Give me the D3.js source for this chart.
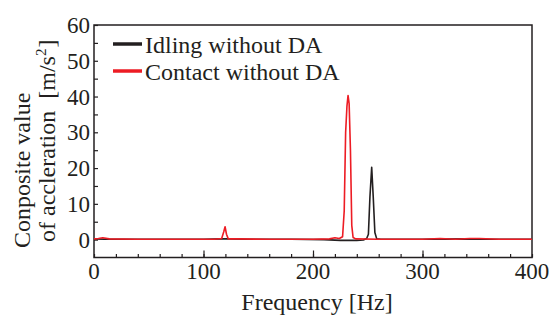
<!DOCTYPE html>
<html>
<head>
	<meta charset="utf-8">
	<script src="https://d3js.org/d3.v7.min.js"></script>
	<style>
		body { margin: 0; background: white; }
		text { font-family: "Liberation Serif", "DejaVu Serif", serif; fill: #231f20; }
	</style>
</head>
<body>
	<svg id="chart" width="552" height="320"></svg>
	<script type="text/javascript">

		// values
		var idleFreq = [0, 10, 30, 60, 100, 118, 122, 140, 180, 210, 225, 232, 240, 246, 249, 250.6, 252, 253.6, 255, 256.5, 258.2, 262, 300, 340, 360, 400];
		var idleVal  = [0.2, 0.1, 0.1, 0.1, 0.1, 0.2, 0.2, 0.1, 0.1, 0.0, -0.2, -0.2, -0.2, -0.1, 0.3, 1.5, 12, 20.2, 12, 2.0, 0.2, 0.1, 0.1, 0.2, 0.1, 0.1];

		var contactFreq = [0, 4, 8, 14, 40, 80, 110, 116.6, 118.5, 119.7, 121, 122.6, 130, 160, 200, 215, 220, 224, 227, 228.5, 229.8, 231, 232, 233, 234.2, 235.4, 236.6, 239, 260, 300, 316, 330, 343, 352, 370, 400];
		var contactVal  = [0.2, 0.3, 0.5, 0.2, 0.1, 0.1, 0.1, 0.3, 2.2, 3.6, 1.5, 0.2, 0.2, 0.1, 0.1, 0.2, 0.5, 0.3, 0.8, 8, 30, 37.3, 40.3, 38, 25, 4, 0.6, 0.2, 0.1, 0.1, 0.3, 0.1, 0.3, 0.3, 0.1, 0.1];

		var xTicks = [0, 100, 200, 300, 400];
		var yTicks = [0, 10, 20, 30, 40, 50, 60];
		var seriesNames = ["Idling without DA", "Contact without DA"];
		var seriesColors = ["#231f20", "#ed1c24"];

		var svg = d3.select("#chart");
		var mLeft = 94, mRight = 532, mTop = 25, mBottom = 257.5;

		var x = d3.scaleLinear().domain([0, 400]).range([mLeft, mRight]);
		var y = d3.scaleLinear().domain([-5, 60]).range([mBottom, mTop]);

		// frame
		svg.append("rect")
			.attr("x", mLeft).attr("y", mTop)
			.attr("width", mRight - mLeft).attr("height", mBottom - mTop)
			.attr("fill", "none").attr("stroke", "#231f20").attr("stroke-width", 1.5);

		// x ticks (inward)
		var xg = svg.append("g").attr("transform", "translate(0," + mBottom + ")");
		xg.append("g").call(d3.axisBottom(x).tickValues(d3.range(0, 401, 20)).tickSize(-3.5).tickFormat(""));
		xg.append("g").call(d3.axisBottom(x).tickValues(xTicks.slice(1, 4)).tickSize(-7).tickFormat(""));
		xg.selectAll(".domain").remove();
		xg.selectAll("line").attr("stroke", "#231f20").attr("stroke-width", 1.2);

		svg.selectAll(".xlab")
			.data(xTicks)
			.enter()
			.append("text")
			.attr("class", "xlab")
			.attr("x", function (d) { return x(d); })
			.attr("y", 278.5)
			.attr("text-anchor", "middle")
			.attr("font-size", "23px")
			.text(function (d) { return d; });

		// y ticks (inward)
		var yg = svg.append("g").attr("transform", "translate(" + mLeft + ",0)");
		yg.call(d3.axisLeft(y).tickValues(d3.range(0, 61, 5)).tickSize(-4).tickFormat(""));
		yg.selectAll(".domain").remove();
		yg.selectAll("line").attr("stroke", "#231f20").attr("stroke-width", 1.2);

		svg.selectAll(".ylab")
			.data(yTicks)
			.enter()
			.append("text")
			.attr("class", "ylab")
			.attr("x", 90)
			.attr("y", function (d) { return y(d) + 8; })
			.attr("text-anchor", "end")
			.attr("font-size", "23px")
			.text(function (d) { return d; });

		// axis titles
		svg.append("text")
			.attr("x", 317).attr("y", 310)
			.attr("text-anchor", "middle")
			.attr("font-size", "24px")
			.text("Frequency [Hz]");

		svg.append("text")
			.attr("transform", "translate(30,248) rotate(-90)")
			.attr("font-size", "24px")
			.text("Conposite value");

		var yt2 = svg.append("text")
			.attr("transform", "translate(55,242) rotate(-90)")
			.attr("font-size", "24px");
		yt2.append("tspan").text("of accleration");
		yt2.append("tspan").attr("dx", 12).text("[m/s");
		yt2.append("tspan").attr("font-size", "15px").attr("dy", -9).text("2");
		yt2.append("tspan").attr("dy", 9).attr("dx", 1).text("]");

		// lines
		var line = d3.line()
			.x(function (d) { return x(d[0]); })
			.y(function (d) { return y(d[1]); });

		var idle = d3.zip(idleFreq, idleVal);
		var contact = d3.zip(contactFreq, contactVal);

		svg.append("path")
			.datum(idle)
			.attr("d", line)
			.attr("fill", "none")
			.attr("stroke", seriesColors[0])
			.attr("stroke-width", 1.6)
			.attr("stroke-linejoin", "round");

		svg.append("path")
			.datum(contact)
			.attr("d", line)
			.attr("fill", "none")
			.attr("stroke", seriesColors[1])
			.attr("stroke-width", 1.6)
			.attr("stroke-linejoin", "round");

		// legend
		var legend = svg.selectAll(".leg")
			.data(seriesNames)
			.enter()
			.append("g")
			.attr("class", "leg")
			.attr("transform", function (d, i) { return "translate(0," + (44 + i * 27) + ")"; });

		legend.append("line")
			.attr("x1", 113).attr("x2", 142)
			.attr("y1", 0).attr("y2", 0)
			.attr("stroke", function (d, i) { return seriesColors[i]; })
			.attr("stroke-width", 3.5);

		legend.append("text")
			.attr("x", 145).attr("y", 9)
			.attr("font-size", "24px")
			.text(function (d) { return d; });
	</script>
</body>
</html>
